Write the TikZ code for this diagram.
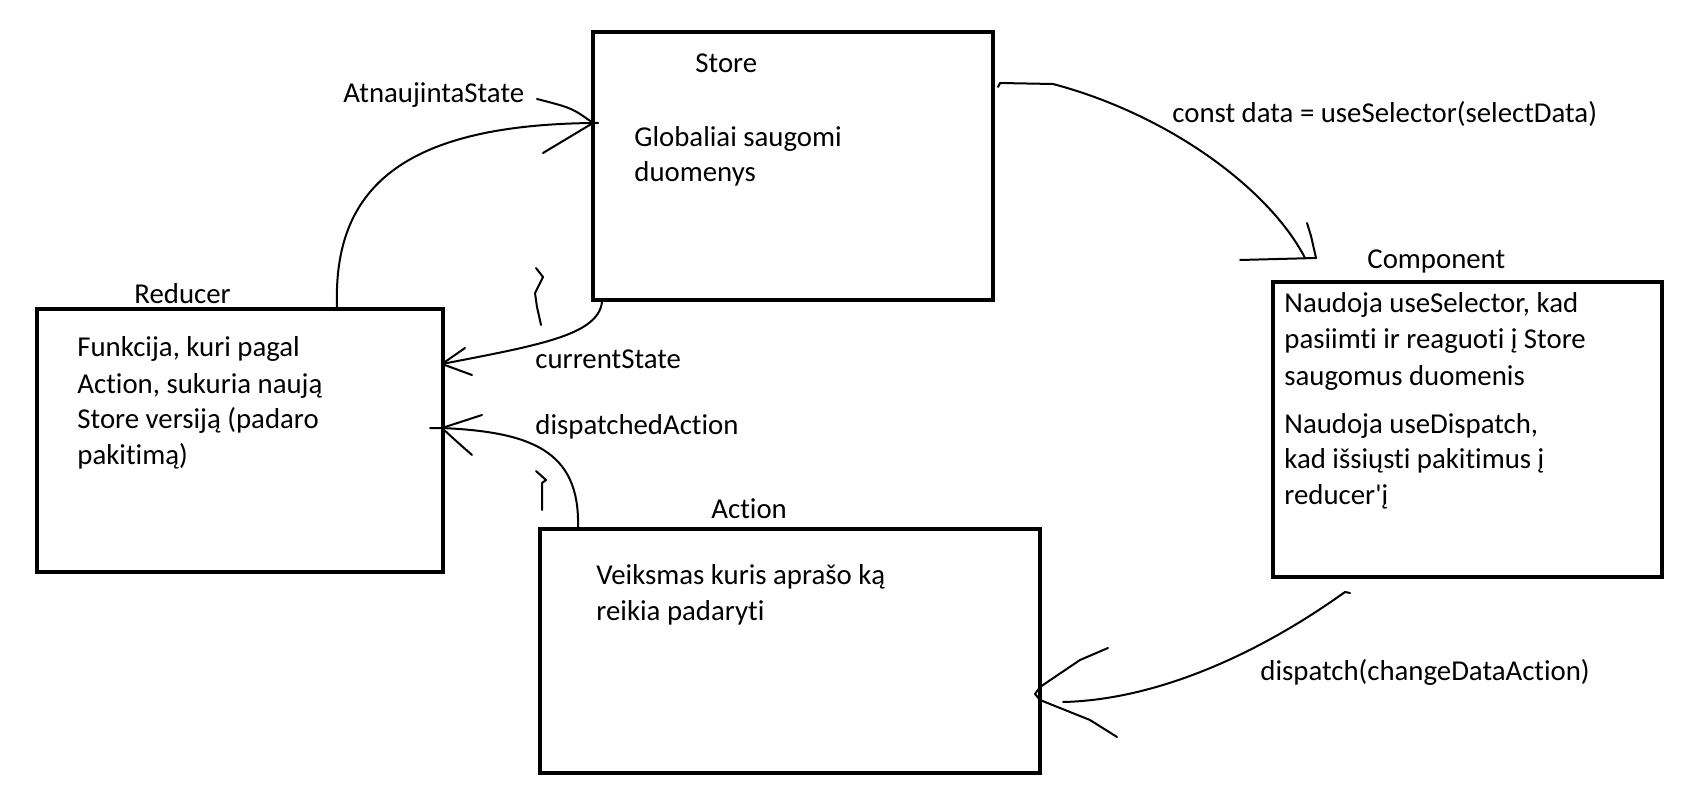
\documentclass[tikz,border=0pt]{standalone}
\usepackage{fontspec}
\setmainfont{Carlito}[Ligatures=NoCommon]
\begin{document}
\begin{tikzpicture}[x=0.5pt,y=-0.5pt,
  box/.style={draw, line width=2pt, inner sep=0pt},
  txt/.style={anchor=base west, inner sep=0pt, font=\fontsize{14.4}{17}\selectfont},
  conn/.style={line width=1pt, line cap=round, line join=round}]
\useasboundingbox[fill=white] (0,0) rectangle (1684,812);

% boxes
\node[box, minimum width=200pt, minimum height=134pt] (store) at (793,166) {};
\node[box, minimum width=203pt, minimum height=131.5pt] (reducer) at (240,440.5) {};
\node[box, minimum width=250pt, minimum height=122pt] (action) at (790,651) {};
\node[box, minimum width=194.5pt, minimum height=147.5pt] (component) at (1467.5,429.5) {};

% titles
\node[txt] (tstore) at (695,73) {Store};
\node[txt] (treducer) at (134,304) {Reducer};
\node[txt] (tcomponent) at (1367,269) {Component};
\node[txt] (taction) at (711,518) {Action};

% store text
\node[txt] (s1) at (634,147) {Globaliai saugomi};
\node[txt] (s2) at (634,182) {duomenys};
% reducer text
\node[txt] (r1) at (77,357) {Funkcija, kuri pagal};
\node[txt] (r2) at (77,393) {Action, sukuria naują};
\node[txt] (r3) at (77,428) {Store versiją (padaro};
\node[txt] (r4) at (77,464) {pakitimą)};
% component text
\node[txt] (c1) at (1284,313) {Naudoja useSelector, kad};
\node[txt] (c2) at (1284,349) {pasiimti ir reaguoti į Store};
\node[txt] (c3) at (1284,385) {saugomus duomenis};
\node[txt] (c4) at (1284,433) {Naudoja useDispatch,};
\node[txt] (c5) at (1284,468) {kad išsiųsti pakitimus į};
\node[txt] (c6) at (1284,504) {reducer\textquotesingle į};
% action text
\node[txt] (a1) at (596,584) {Veiksmas kuris aprašo ką};
\node[txt] (a2) at (596,620) {reikia padaryti};

% connector labels
\node[txt] (latn) at (343,103) {AtnaujintaState};
\node[txt] (lcur) at (535,368) {currentState};
\node[txt] (ldis) at (535,434) {dispatchedAction};
\node[txt] (lsel) at (1172,123) {const data = useSelector(selectData)};
\node[txt] (lchg) at (1260,680) {dispatch(changeDataAction)};

% anchor points of the hand drawn connectors
\coordinate (aS) at ([shift={(302,0)}]reducer.north west);
\coordinate (aT) at ([shift={(2,93)}]store.north west);
\coordinate (bS) at ([shift={(11,0)}]store.south west);
\coordinate (bT) at ([shift={(-3,57)}]reducer.north east);
\coordinate (cS) at ([shift={(40,0)}]action.north west);
\coordinate (cT) at ([shift={(-3,121)}]reducer.north east);
\coordinate (dS) at ([shift={(5,53)}]store.north east);
\coordinate (dT) at ([shift={(45,-22)}]component.north west);
\coordinate (eS) at ([shift={(79,14)}]component.south west);
\coordinate (eT) at ([shift={(-7,43)}]action.east);

% Reducer -> Store (AtnaujintaState)
\draw[conn] (aS) .. controls (333,190) and (400,125) .. (aT) -- ++(5,0);
\draw[conn] (537,99) .. controls (572,108) .. (aT) -- (543,153);

% Store -> Reducer (currentState)
\draw[conn] (bS) .. controls (598,335) and (540,345) .. (bT);
\draw[conn] (465,348) -- (bT) -- (472,375);

% Action -> Reducer (dispatchedAction)
\draw[conn] (cS) .. controls (580,450) and (530,432) .. (cT) -- ++(-12,0);
\draw[conn] (482,415) -- (cT) .. controls (455,440) .. (472,455);

% Store -> Component (const data = ...)
\draw[conn] ([shift={(-2,4)}]dS) -- (dS) -- (1053,84) .. controls (1170,115) and (1270,190) .. (1305,258);
\draw[conn] (1240,260) -- (dT);
\draw[conn] (1307,223) -- (1311,236) -- (dT);

% Component -> Action (dispatch)
\draw[conn] (eS) -- ++(-5,-1) .. controls (1250,660) and (1150,700) .. (1063,702);
\draw[conn] (1108,648) -- (1080,660) -- (1040,687) -- (eT) -- (1040,700) -- (1090,720) -- (1117,737);

% small squiggles
\draw[conn] (536,268) -- (543,277) -- (535,293) -- (537,307) -- (541,325);
\draw[conn] (536,471) -- (546,480) -- (542,483) -- (542,510);
\end{tikzpicture}
\end{document}
